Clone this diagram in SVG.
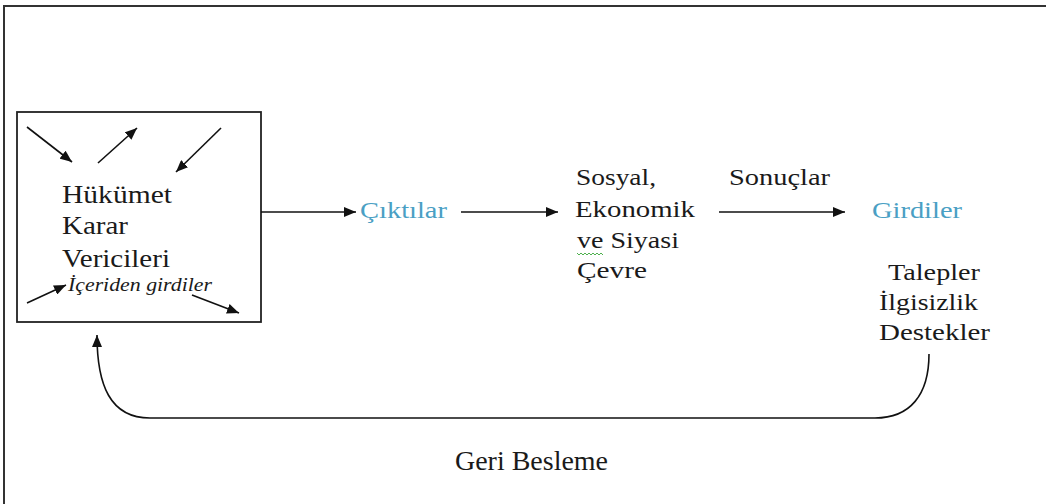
<svg xmlns="http://www.w3.org/2000/svg" width="1046" height="504" viewBox="0 0 1046 504">
  <style>
    text { font-family: 'Liberation Serif', 'DejaVu Serif', serif; fill: #1a1a1a; }
    .blue { fill: #4a9fc4; }
    .ln { stroke: #111; stroke-width: 1.6; fill: none; }
  </style>
  <defs>
    <marker id="ah" viewBox="0 0 12 10" refX="12" refY="5" markerWidth="12" markerHeight="10" markerUnits="userSpaceOnUse" orient="auto">
      <path d="M0,0 L12,5 L0,10 Z" fill="#111"/>
    </marker>
  </defs>
  <rect width="1046" height="504" fill="#fff"/>

  <!-- page frame -->
  <path d="M4,504 V6 H1046" fill="none" stroke="#333" stroke-width="2"/>

  <!-- government / decision makers -->
  <g id="government">
    <rect x="17" y="112" width="244" height="210" fill="#fff" stroke="#222" stroke-width="1.8"/>
    <line class="ln" x1="27" y1="127" x2="72" y2="162" marker-end="url(#ah)"/>
    <line class="ln" x1="98" y1="163" x2="137" y2="128" marker-end="url(#ah)"/>
    <line class="ln" x1="221" y1="128" x2="176" y2="172" marker-end="url(#ah)"/>
    <line class="ln" x1="27" y1="303" x2="66" y2="285" marker-end="url(#ah)"/>
    <line class="ln" x1="192" y1="295" x2="239" y2="313" marker-end="url(#ah)"/>
    <text x="62" y="203" font-size="26" textLength="110" lengthAdjust="spacingAndGlyphs">Hükümet</text>
    <text x="62" y="234" font-size="26" textLength="66" lengthAdjust="spacingAndGlyphs">Karar</text>
    <text x="62" y="267" font-size="26" textLength="108" lengthAdjust="spacingAndGlyphs">Vericileri</text>
    <text x="68" y="291" font-size="19" font-style="italic" textLength="144" lengthAdjust="spacingAndGlyphs">İçeriden girdiler</text>
  </g>

  <g id="outputs">
    <text class="blue" x="360" y="218" font-size="23" textLength="87" lengthAdjust="spacingAndGlyphs">Çıktılar</text>
  </g>

  <g id="environment">
    <text x="576" y="185" font-size="23" textLength="80" lengthAdjust="spacingAndGlyphs">Sosyal,</text>
    <text x="575" y="217" font-size="23" textLength="120" lengthAdjust="spacingAndGlyphs">Ekonomik</text>
    <text x="577" y="248" font-size="23" textLength="102" lengthAdjust="spacingAndGlyphs">ve Siyasi</text>
    <path d="M577,253 l2,2 l2,-2 l2,2 l2,-2 l2,2 l2,-2 l2,2 l2,-2 l2,2 l2,-2 l2,2 l2,-2 l2,2" fill="none" stroke="#3aa83a" stroke-width="0.9"/>
    <text x="577" y="278" font-size="23" textLength="70" lengthAdjust="spacingAndGlyphs">Çevre</text>
  </g>

  <g id="results">
    <text x="729" y="185" font-size="23" textLength="101" lengthAdjust="spacingAndGlyphs">Sonuçlar</text>
  </g>

  <g id="inputs">
    <text class="blue" x="872" y="218" font-size="23" textLength="90" lengthAdjust="spacingAndGlyphs">Girdiler</text>
    <text x="888" y="280" font-size="23" textLength="92" lengthAdjust="spacingAndGlyphs">Talepler</text>
    <text x="879" y="310" font-size="23" textLength="99" lengthAdjust="spacingAndGlyphs">İlgisizlik</text>
    <text x="879" y="340" font-size="23" textLength="111" lengthAdjust="spacingAndGlyphs">Destekler</text>
  </g>

  <g id="feedback-label">
    <text x="455" y="470" font-size="27" textLength="153" lengthAdjust="spacingAndGlyphs">Geri Besleme</text>
  </g>

  <!-- connectors -->
  <g id="connectors">
    <line class="ln" x1="261" y1="212" x2="356" y2="212" marker-end="url(#ah)"/>
    <line class="ln" x1="461" y1="212" x2="558" y2="212" marker-end="url(#ah)"/>
    <line class="ln" x1="719" y1="212" x2="845" y2="212" marker-end="url(#ah)"/>
    <path class="ln" d="M929,354 C929,395 910,418 875,418 H150 C110,418 97,385 97,335" marker-end="url(#ah)"/>
  </g>
</svg>
